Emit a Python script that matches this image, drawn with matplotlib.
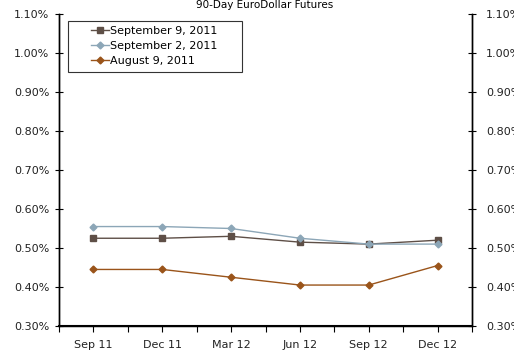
import matplotlib
matplotlib.use("Agg")
import matplotlib.pyplot as plt
from matplotlib.patches import Rectangle
from matplotlib.ticker import FuncFormatter, FixedLocator

months = ["Sep 11", "Dec 11", "Mar 12", "Jun 12", "Sep 12", "Dec 12"]
sep9 = [0.525, 0.525, 0.530, 0.515, 0.510, 0.520]
sep2 = [0.555, 0.555, 0.550, 0.525, 0.510, 0.510]
aug9 = [0.445, 0.445, 0.425, 0.405, 0.405, 0.455]

plt.rcParams['font.family'] = ['Verdana', 'DejaVu Sans']
plt.rcParams['font.size'] = 8

fig = plt.figure(figsize=(5.14, 3.5), dpi=100)
ax = fig.add_axes([59 / 514, 1 - 326 / 350, 413 / 514, 312 / 350])

x = list(range(len(months)))
ax.plot(x, sep9, color="#5e4f47", marker="s", markersize=4, linewidth=1, label="September 9, 2011")
ax.plot(x, sep2, color="#8ca6b7", marker="D", markersize=3.5, linewidth=1, label="September 2, 2011")
ax.plot(x, aug9, color="#9a541a", marker="D", markersize=3.5, linewidth=1, label="August 9, 2011")

ax.set_xlim(-0.5, 5.5)
ax.set_ylim(0.30, 1.10)
ax.set_xticks(x)
ax.set_xticklabels(months)
ax.xaxis.set_minor_locator(FixedLocator([i + 0.5 for i in range(-1, 6)]))
yt = [0.30 + 0.1 * i for i in range(9)]
ax.set_yticks(yt)
fmt = FuncFormatter(lambda v, p: "%.2f%%" % v)
ax.yaxis.set_major_formatter(fmt)
ax.tick_params(axis="y", direction="inout", length=6, width=0.8, colors="black", labelcolor="#222222", pad=4)
ax.tick_params(axis="x", which="both", direction="out", length=4, width=0.8, labelcolor="#222222", pad=6)

ax2 = ax.twinx()
ax2.set_ylim(0.30, 1.10)
ax2.set_yticks(yt)
ax2.yaxis.set_major_formatter(fmt)
ax2.tick_params(axis="y", direction="inout", length=6, width=0.8, labelcolor="#222222", pad=7)

for a in (ax, ax2):
    a.spines["top"].set_visible(False)
    for s in ("left", "right", "bottom"):
        a.spines[s].set_linewidth(1)
ax.spines["bottom"].set_linewidth(1.5)

# legend box drawn separately so the entries sit centred in a wider frame
ax.add_patch(Rectangle((9 / 413, 1 - 58 / 312), 174 / 413, 51 / 312, transform=ax.transAxes,
                       facecolor="white", edgecolor="#333333", linewidth=0.8, zorder=4))
leg = ax.legend(loc="upper left", bbox_to_anchor=(32 / 413, 1 - 12 / 312), frameon=False,
                handlelength=1.6, handletextpad=0.15, borderpad=0, borderaxespad=0,
                labelspacing=0.45, fontsize=8)
leg.set_zorder(5)

fig.text(265 / 514, 1.0, "90-Day EuroDollar Futures", ha="center", va="top", fontsize=7.5)

fig.savefig("out.png", dpi=100)
